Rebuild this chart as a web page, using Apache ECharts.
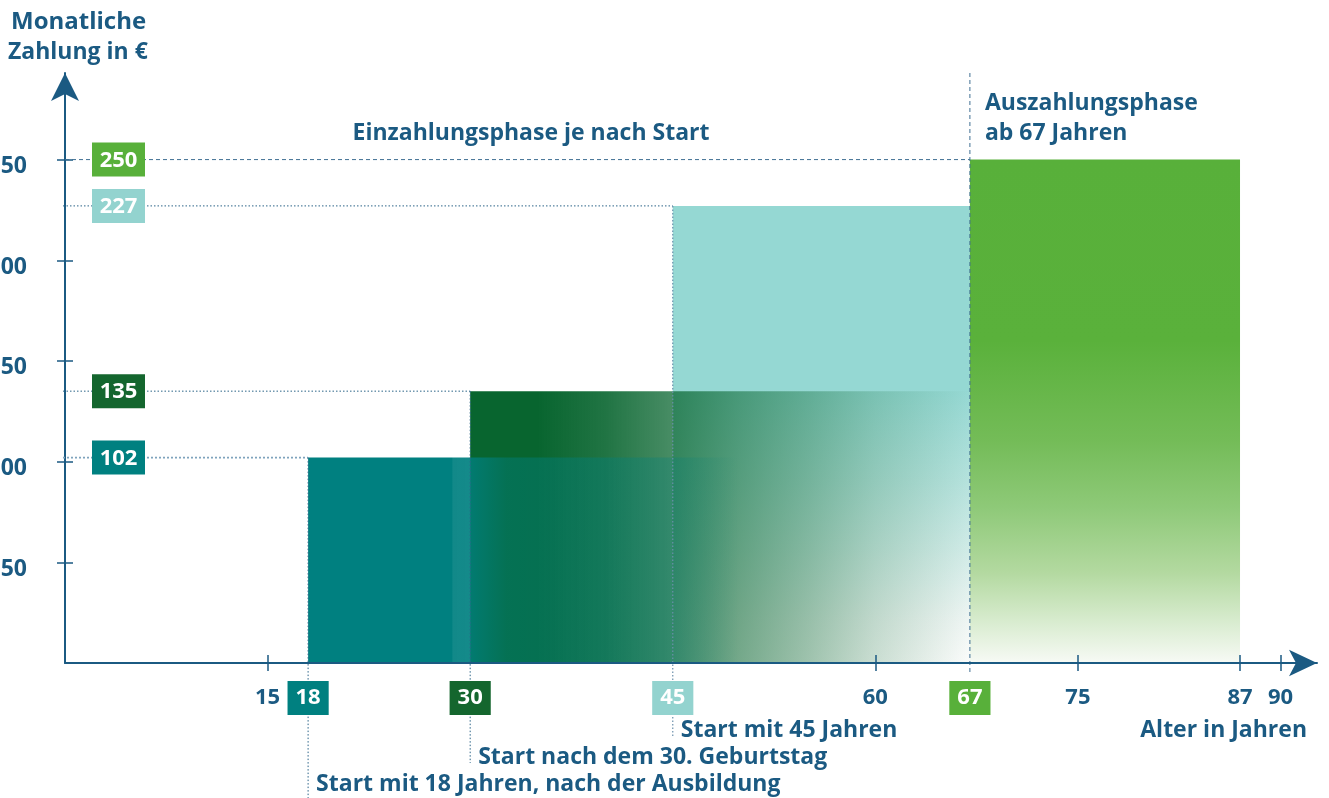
<!DOCTYPE html>
<html><head><meta charset="utf-8">
<script src="https://cdn.jsdelivr.net/npm/echarts@6/dist/echarts.min.js"></script>
<style>html,body{margin:0;padding:0;background:#fff}#c{width:1329px;height:798px}</style>
</head><body><div id="c"></div>
<script>
// ---- data ----
const startAges = [18, 30, 45];
const monthlyContribution = [102, 135, 227];
const startLabels = ['Start mit 18 Jahren, nach der Ausbildung', 'Start nach dem 30. Geburtstag', 'Start mit 45 Jahren'];
const payoutStartAge = 67;
const payoutEndAge = 87;
const monthlyPayout = 250;
const xTickValues = [15, 60, 75, 87, 90];
const xLabelValues = [15, 18, 30, 45, 60, 67, 75, 87, 90];
const yTickValues = [50, 100, 150, 200, 250];

// ---- style ----
const BLUE = '#1b5a82';
const FONT = 'Open Sans';
const FS = 23;   // annotation text
const AFS = 22;  // axis / box text
const startColors = ['#008080', '#14662e', '#93d3cf'];
const payoutColor = '#58b03a';
const X_MAX = 92.7, Y_MAX = 293;

function rgba(c, a) { return 'rgba(' + c.join(',') + ',' + a + ')'; }
function stops(c, arr) { return arr.map(s => ({ offset: s[0], color: rgba(c, s[1]) })); }
const LG = echarts.graphic.LinearGradient;
const barFills = [
  new LG(0, 0, 1, 0, stops([0, 128, 128], [[0, 1], [0.217, 1], [0.219, 0.93], [0.244, 0.92], [0.246, 0.8], [0.3, 0.45], [0.45, 0.38], [0.55, 0.28], [0.65, 0], [1, 0]])),
  new LG(0, 0, 1, 0, stops([8, 101, 47], [[0, 1], [0.135, 1], [0.27, 0.9], [0.405, 0.74], [0.54, 0.55], [0.676, 0.38], [0.81, 0.2], [1, 0]])),
  new LG(0, 0, 0, 1, [
    { offset: 0, color: '#95d8d3' }, { offset: 0.40, color: '#95d8d3' }, { offset: 0.6, color: '#b5e2dd' },
    { offset: 0.75, color: '#d0ebe7' }, { offset: 0.9, color: '#eef5f3' }, { offset: 1, color: '#fbfcfb' }])
];
const barZ = [3, 2, 1];
const payoutFill = new LG(0, 0, 0, 1, [
  { offset: 0, color: '#58b03a' }, { offset: 0.36, color: '#5ab13b' }, { offset: 0.56, color: '#74bc58' },
  { offset: 0.69, color: '#8ec978' }, { offset: 0.82, color: '#b3d9a0' }, { offset: 0.92, color: '#d9ecd0' },
  { offset: 1, color: '#f7faf5' }]);
const hLineStyles = [
  { stroke: '#7fa3bd', lineWidth: 1.6, lineDash: [2, 2] },
  { stroke: '#2b6488', lineWidth: 1, lineDash: [1.5, 2] },
  { stroke: '#2b6488', lineWidth: 1, lineDash: [1.5, 2] }
];
const vLineStyles = [
  { stroke: '#2b6488', lineWidth: 1, lineDash: [1.5, 2] },
  { stroke: '#2b6488', lineWidth: 1, lineDash: [1.5, 2] },
  { stroke: '#6b8fab', lineWidth: 1.2, lineDash: [1.5, 2] }
];
function txt(text, x, y, opts) {
  return { type: 'text', x: x, y: y, style: Object.assign({
    text: text, fill: BLUE, fontFamily: FONT, fontWeight: 'bold', fontSize: FS,
    align: 'left', verticalAlign: 'middle' }, opts || {}) };
}

const chart = echarts.init(document.getElementById('c'), null, { renderer: 'canvas' });
const axisLabelFmt = v => {
  const i = startAges.indexOf(v);
  if (i >= 0) return '{s' + i + '|' + v + '}';
  if (v === payoutStartAge) return '{p|' + v + '}';
  return '{n|' + v + '}';
};
const boxRich = c => ({ backgroundColor: c, color: '#fff', fontFamily: FONT, fontWeight: 'bold', fontSize: AFS, lineHeight: 22, height: 22, padding: [6, 8] });

chart.setOption({
  animation: false,
  grid: { left: 65, right: 12, top: 73, bottom: 135, containLabel: false, outerBoundsMode: 'none' },
  xAxis: [{
    type: 'value', min: 0, max: X_MAX, z: 10,
    axisLine: { show: true, onZero: false, lineStyle: { color: BLUE, width: 2 }, symbol: ['none', 'arrow'], symbolSize: [20, 28] },
    axisTick: { show: true, customValues: xTickValues, length: 8, lineStyle: { color: BLUE, width: 1.5 } },
    axisLabel: {
      customValues: xLabelValues, margin: 24, formatter: axisLabelFmt,
      rich: {
        n: { color: BLUE, fontFamily: FONT, fontWeight: 'bold', fontSize: AFS, lineHeight: 22, height: 22, padding: [6, 0] },
        s0: boxRich(startColors[0]), s1: boxRich(startColors[1]), s2: boxRich(startColors[2]), p: boxRich(payoutColor)
      }
    },
    splitLine: { show: false }
  }, {
    type: 'value', min: 0, max: X_MAX, position: 'bottom', z: 10,
    axisLine: { show: false }, axisLabel: { show: false }, splitLine: { show: false },
    axisTick: { show: true, inside: true, customValues: xTickValues, length: 8, lineStyle: { color: BLUE, width: 1.5 } }
  }],
  yAxis: [{
    type: 'value', min: 0, max: Y_MAX,
    axisLine: { show: true, lineStyle: { color: BLUE, width: 2 }, symbol: ['none', 'arrow'], symbolSize: [21, 28] },
    axisTick: { show: true, customValues: yTickValues, length: 8, lineStyle: { color: BLUE, width: 1.5 } },
    axisLabel: {
      customValues: yTickValues, margin: 38, formatter: v => '{a|' + v + '}',
      rich: { a: { color: BLUE, fontFamily: FONT, fontWeight: 'bold', fontSize: 23, lineHeight: 22, padding: [14, 0, 0, 0] } }
    },
    splitLine: { show: false }
  }, {
    type: 'value', min: 0, max: Y_MAX, position: 'left',
    axisLine: { show: false }, axisLabel: { show: false }, splitLine: { show: false },
    axisTick: { show: true, inside: true, customValues: yTickValues, length: 8, lineStyle: { color: BLUE, width: 1.5 } }
  }],
  graphic: [
    { type: 'text', x: 11, y: 22, style: { text: 'Monatliche', fill: BLUE, fontFamily: FONT, fontWeight: 'bold', fontSize: 24, verticalAlign: 'middle' } },
    { type: 'text', x: 8, y: 52, style: { text: 'Zahlung in €', fill: BLUE, fontFamily: FONT, fontWeight: 'bold', fontSize: FS, verticalAlign: 'middle' } },
    { type: 'text', x: 531, y: 133, style: { text: 'Einzahlungsphase je nach Start', fill: BLUE, fontFamily: FONT, fontWeight: 'bold', fontSize: FS, align: 'center', verticalAlign: 'middle' } },
    { type: 'text', x: 1307, y: 730, style: { text: 'Alter in Jahren', fill: BLUE, fontFamily: FONT, fontWeight: 'bold', fontSize: FS, align: 'right', verticalAlign: 'middle' } }
  ],
  series: [{
    name: 'Einzahlung', type: 'custom', z: 2,
    data: startAges.map((s, i) => [s, payoutStartAge, monthlyContribution[i]]),
    renderItem: (params, api) => {
      const i = params.dataIndex;
      const p0 = api.coord([api.value(0), api.value(2)]);
      const p1 = api.coord([api.value(1), 0]);
      return { type: 'rect', z2: barZ[i], shape: { x: p0[0], y: p0[1], width: p1[0] - p0[0], height: p1[1] - p0[1] }, style: { fill: barFills[i] } };
    }
  }, {
    name: 'Auszahlung', type: 'custom', z: 3,
    data: [[payoutStartAge, payoutEndAge, monthlyPayout]],
    renderItem: (params, api) => {
      const p0 = api.coord([api.value(0), api.value(2)]);
      const p1 = api.coord([api.value(1), 0]);
      const pAxis = api.coord([0, api.value(2)]);
      const top = api.coord([0, Y_MAX])[1];
      const dash = { stroke: '#3f6f93', lineWidth: 1, lineDash: [4, 3] };
      return { type: 'group', children: [
        { type: 'rect', shape: { x: p0[0], y: p0[1], width: p1[0] - p0[0], height: p1[1] - p0[1] }, style: { fill: payoutFill } },
        { type: 'line', shape: { x1: pAxis[0], y1: p0[1], x2: p0[0], y2: p0[1] }, style: dash },
        { type: 'line', shape: { x1: p0[0], y1: top, x2: p0[0], y2: p1[1] + 12 }, style: dash },
        txt('Auszahlungsphase', p0[0] + 15, p0[1] - 56),
        txt('ab 67 Jahren', p0[0] + 15, p0[1] - 26)
      ] };
    }
  }, {
    name: 'Hilfslinien', type: 'custom', z: 3,
    data: startAges.map((s, i) => [s, monthlyContribution[i]]),
    renderItem: (params, api) => {
      const i = params.dataIndex;
      const pA = api.coord([0, api.value(1)]);
      const pB = api.coord([api.value(0), api.value(1)]);
      const axisY = api.coord([0, 0])[1];
      const ty = axisY + 121 - 27 * i;
      return { type: 'group', children: [
        { type: 'line', shape: { x1: pA[0] - 2, y1: pB[1], x2: pB[0], y2: pB[1] }, style: hLineStyles[i] },
        { type: 'line', shape: { x1: pB[0], y1: pB[1], x2: pB[0], y2: ty + (i === 0 ? 14 : 6) }, style: vLineStyles[i] },
        txt(startLabels[i], pB[0] + 8, ty)
      ] };
    }
  }, {
    name: 'Werte', type: 'custom', z: 4,
    data: monthlyContribution.concat([monthlyPayout]).map((v, i) => [v, i]),
    renderItem: (params, api) => {
      const i = params.dataIndex;
      const p = api.coord([0, api.value(0)]);
      const colors = startColors.concat([payoutColor]);
      return { type: 'group', children: [
        { type: 'rect', shape: { x: p[0] + 27, y: p[1] - 17, width: 53, height: 34 }, style: { fill: colors[i] } },
        { type: 'text', x: p[0] + 53.5, y: p[1] + 1, style: { text: String(api.value(0)), fill: '#fff', fontFamily: FONT, fontWeight: 'bold', fontSize: AFS, align: 'center', verticalAlign: 'middle' } }
      ] };
    }
  }]
});
</script></body></html>
